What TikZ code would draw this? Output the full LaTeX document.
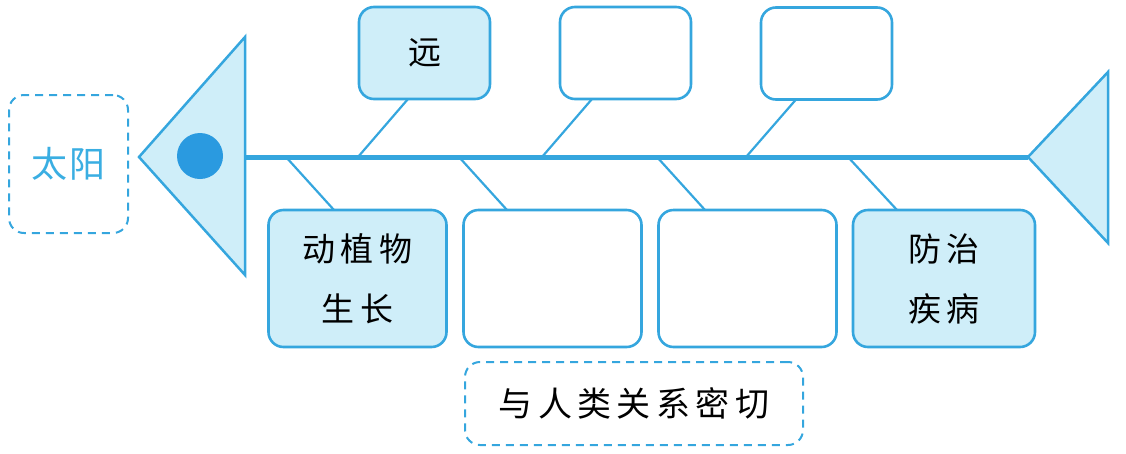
\documentclass[tikz,border=0pt]{standalone}
\usepackage{fontspec}
\newfontfamily\cjk[LetterSpace=16]{Noto Sans CJK SC}
\newfontfamily\cjkn[LetterSpace=6]{Noto Sans CJK SC}
\definecolor{fbline}{HTML}{35A6DE}
\definecolor{fbfill}{HTML}{CFEEF9}
\definecolor{fbdot}{HTML}{2A9AE0}
\definecolor{fbtext}{HTML}{3AAEE2}
\begin{document}
\begin{tikzpicture}[x=1pt,y=-1pt,
  box/.style={draw=fbline, line width=2.6pt, rounded corners=15pt, inner sep=0pt, outer sep=0pt,
    align=center, font=\cjk\fontsize{33}{60}\selectfont, text=black},
  filledbox/.style={box, fill=fbfill},
  plainbox/.style={box, fill=white},
  topbox/.style={minimum width=131pt, minimum height=92pt},
  botbox/.style={minimum width=178pt, minimum height=137pt},
  dashbox/.style={draw=fbline, line width=2pt, dash pattern=on 8pt off 6pt, rounded corners=15pt,
    inner sep=0pt, outer sep=0pt, align=center},
  branch/.style={draw=fbline, line width=2.2pt},
  spine/.style={draw=fbline, line width=5pt},
  fin/.style={draw=fbline, fill=fbfill, line width=2.5pt, line join=miter}
]
\useasboundingbox (0,0) rectangle (1126,453);

% spine coordinates
\coordinate (hp) at (139,157);
\coordinate (ht) at (245,37);
\coordinate (hb) at (245,275);
\coordinate (hm) at (245,157);
\coordinate (tp) at (1028,157);
\coordinate (tt) at (1108,72);
\coordinate (tb) at (1108,243);

% spine
\draw[spine] (hm) -- (tp);

% head and tail
\draw[fin] (hp) -- (ht) -- (hb) -- cycle;
\draw[fin] (tp) -- (tt) -- (tb) -- cycle;
\node[circle, fill=fbdot, minimum size=46pt, inner sep=0pt] (eye) at (200,156) {};

% sun label
\node[dashbox, minimum width=119pt, minimum height=138pt, text=fbtext,
      font=\cjkn\fontsize{36}{40}\selectfont] (sun) at (68.5,164) {太阳};

% top boxes
\node[filledbox, topbox] (t1) at (424.5,53) {远};
\node[plainbox, topbox] (t2) at (625.5,53) {};
\node[plainbox, topbox] (t3) at (826.5,53.5) {};

% bottom boxes
\node[filledbox, botbox] (b1) at (357.5,278.5) {动植物\\生长};
\node[plainbox, botbox] (b2) at (552.5,278.5) {};
\node[plainbox, botbox] (b3) at (747.5,278.5) {};
\node[filledbox, botbox, minimum width=182pt] (b4) at (944,278.5) {防治\\疾病};

% bottom dashed label
\node[dashbox, minimum width=338pt, minimum height=83pt,
      font=\cjk\fontsize{34}{40}\selectfont] (rel) at (634,403.5) {与人类关系密切};

% spine points
\coordinate (s1) at (358,157);
\coordinate (s2) at (542,157);
\coordinate (s3) at (746,157);
\coordinate (u1) at (286,157);
\coordinate (u2) at (459,157);
\coordinate (u3) at (657,157);
\coordinate (u4) at (848,157);

% branches
\draw[branch] ([xshift=-16.5pt]t1.south) -- (s1);
\draw[branch] ([xshift=-33.5pt]t2.south) -- (s2);
\draw[branch] ([xshift=-30.5pt]t3.south) -- (s3);
\draw[branch] (u1) -- ([xshift=-23.5pt]b1.north);
\draw[branch] (u2) -- ([xshift=-45.5pt]b2.north);
\draw[branch] (u3) -- ([xshift=-42.5pt]b3.north);
\draw[branch] (u4) -- ([xshift=-47pt]b4.north);
\end{tikzpicture}
\end{document}
